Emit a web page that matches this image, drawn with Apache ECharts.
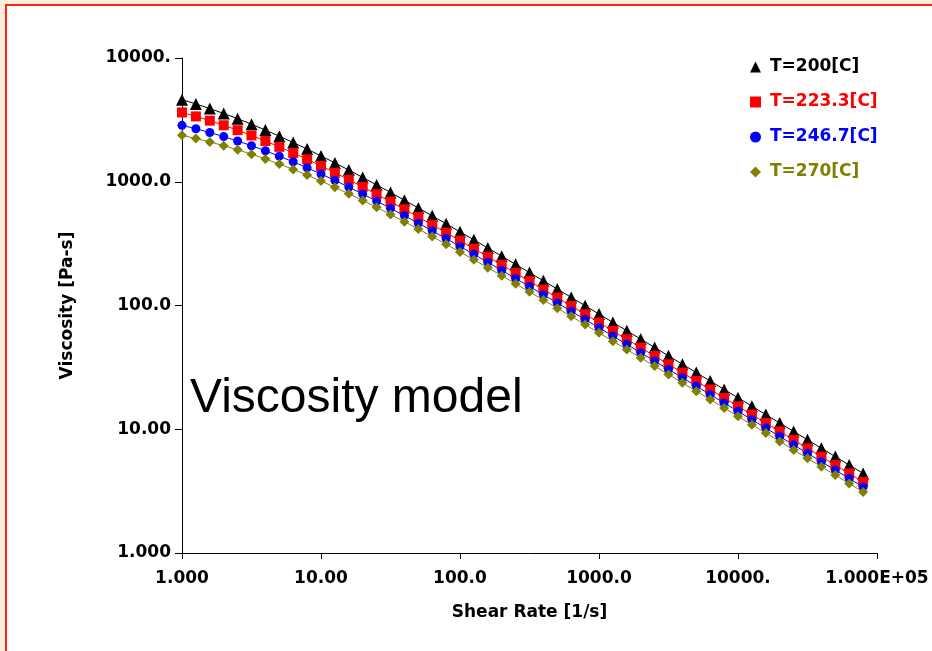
<!DOCTYPE html>
<html>
<head>
<meta charset="utf-8">
<script src="https://cdn.jsdelivr.net/npm/echarts@6/dist/echarts.min.js"></script>
<style>
html,body{margin:0;padding:0;width:932px;height:651px;overflow:hidden;background:#fcefd9;}
#frame{position:absolute;left:5px;top:4px;right:-4px;bottom:-4px;background:#fff;border-top:2px solid #ff2020;border-left:2px solid #ff2020;}
#chart{position:absolute;left:0;top:0;width:932px;height:651px;}
</style>
</head>
<body>
<div id="frame"></div>
<div id="chart"></div>
<script>
// Shear rate [1/s]
const shearRate = [1,1.259,1.585,1.995,2.512,3.162,3.981,5.012,6.31,7.943,
  10,12.59,15.85,19.95,25.12,31.62,39.81,50.12,63.1,79.43,
  100,125.9,158.5,199.5,251.2,316.2,398.1,501.2,631,794.3,
  1000,1259,1585,1995,2512,3162,3981,5012,6310,7943,
  10000,12590,15850,19950,25120,31620,39810,50120,63100,79430];

// Viscosity [Pa-s]
const visc200 = [4605,4254,3904,3563,3233,2916,2616,2335,2074,1836,
  1617,1420,1243,1084,943.5,819.5,709.9,614.0,530.5,457.4,
  394.0,339.1,291.6,250.5,215.1,184.5,158.2,135.7,116.3,99.61,
  85.31,73.04,62.53,53.52,45.81,39.19,33.53,28.69,24.54,20.99,
  17.95,15.36,13.13,11.24,9.607,8.217,7.027,6.009,5.140,4.394];
const visc223 = [3632,3374,3117,2860,2609,2367,2135,1915,1709,1518,
  1343,1183,1039,909.1,792.8,689.9,599.4,519.1,449.0,387.8,
  334.4,288.1,248.0,213.2,183.1,157.2,134.9,115.7,99.17,84.99,
  72.81,62.36,53.39,45.71,39.11,33.48,28.65,24.52,20.97,17.94,
  15.35,13.12,11.23,9.603,8.213,7.022,6.007,5.137,4.392,3.756];
const visc246 = [2858,2681,2500,2318,2135,1956,1779,1610,1450,1298,
  1156,1025,905.1,796.5,698.0,610.3,532.0,462.4,401.2,347.4,
  300.3,259.1,223.5,192.3,165.5,142.3,122.2,104.9,89.96,77.12,
  66.12,56.65,48.52,41.56,35.58,30.46,26.06,22.31,19.08,16.33,
  13.97,11.95,10.22,8.744,7.478,6.396,5.470,4.678,4.000,3.421];
const visc270 = [2372,2238,2098,1957,1813,1670,1529,1390,1258,1132,
  1013,902.6,799.4,706.3,621.5,544.5,475.9,415.0,360.6,312.8,
  271.0,234.0,202.0,174.2,150.0,129.0,110.9,95.19,81.71,70.09,
  60.11,51.52,44.13,37.81,32.38,27.72,23.73,20.31,17.38,14.87,
  12.72,10.88,9.312,7.965,6.812,5.826,4.983,4.262,3.645,3.117];

const seriesNames = ['T=200[C]','T=223.3[C]','T=246.7[C]','T=270[C]'];
const xTickValues = [1,10,100,1000,10000,100000];
const xTickLabels = ['1.000','10.00','100.0','1000.0','10000.','1.000E+05'];
const yTickValues = [1,10,100,1000,10000];
const yTickLabels = ['1.000','10.00','100.0','1000.0','10000.'];
const annotation = 'Viscosity model';

function fmt(vals, labels){
  return function(v){
    for (let i=0;i<vals.length;i++){ if (Math.abs(v-vals[i]) < vals[i]*1e-6) return labels[i]; }
    return '';
  };
}
function pairs(ys){ return shearRate.map((x,i)=>[x, ys[i]]); }

const colors = ['#000000','#ff0000','#0000ff','#808000'];
const symbols = ['triangle','rect','circle','diamond'];
const sizes = [12,10,9,10];
const dataSets = [visc200, visc223, visc246, visc270];

const chart = echarts.init(document.getElementById('chart'), null, {renderer:'canvas'});
const labelFont = {fontFamily:'DejaVu Sans', fontWeight:'bold', fontSize:17, color:'#000'};
chart.setOption({
  backgroundColor:'transparent',
  animation:false,
  grid:{left:182, top:58, width:695, height:495},
  xAxis:{
    type:'log', logBase:10, min:1, max:100000,
    name:'Shear Rate [1/s]', nameLocation:'middle', nameGap:51,
    nameTextStyle:{fontFamily:'DejaVu Sans', fontWeight:'bold', fontSize:17, color:'#000'},
    axisLine:{show:true, lineStyle:{color:'#000', width:1}},
    axisTick:{show:true, inside:false, length:6, lineStyle:{color:'#000'}},
    minorTick:{show:false}, splitLine:{show:false}, minorSplitLine:{show:false},
    axisLabel:Object.assign({margin:17, formatter:fmt(xTickValues,xTickLabels), showMinLabel:true, showMaxLabel:true}, labelFont)
  },
  yAxis:{
    type:'log', logBase:10, min:1, max:10000,
    name:'Viscosity [Pa-s]', nameLocation:'middle', nameGap:106, nameRotate:90,
    nameTextStyle:{fontFamily:'DejaVu Sans', fontWeight:'bold', fontSize:17, color:'#000'},
    axisLine:{show:true, lineStyle:{color:'#000', width:1}},
    axisTick:{show:true, inside:false, length:7, lineStyle:{color:'#000'}},
    minorTick:{show:false}, splitLine:{show:false}, minorSplitLine:{show:false},
    axisLabel:Object.assign({margin:11, formatter:fmt(yTickValues,yTickLabels), showMinLabel:true, showMaxLabel:true}, labelFont)
  },
  legend:{
    orient:'vertical', left:745, top:52, itemWidth:11, itemHeight:11, itemGap:15,
    data: seriesNames.map((n,i)=>({name:n, icon:symbols[i], textStyle:{color:colors[i]}})),
    textStyle:{fontFamily:'DejaVu Sans', fontWeight:'bold', fontSize:17, lineHeight:20, padding:[0,0,0,4]}
  },
  graphic:[{
    type:'text', left:190, top:375, z:10,
    style:{text:annotation, fontFamily:'Liberation Sans', fontSize:48, fill:'#000'}
  }],
  series: seriesNames.map((n,i)=>({
    name:n, type:'line', data:pairs(dataSets[i]),
    symbol:symbols[i], symbolSize:sizes[i], showAllSymbol:true,
    lineStyle:{color:colors[i], width:1},
    itemStyle:{color:colors[i]},
    emphasis:{disabled:true}
  }))
});
</script>
</body>
</html>
